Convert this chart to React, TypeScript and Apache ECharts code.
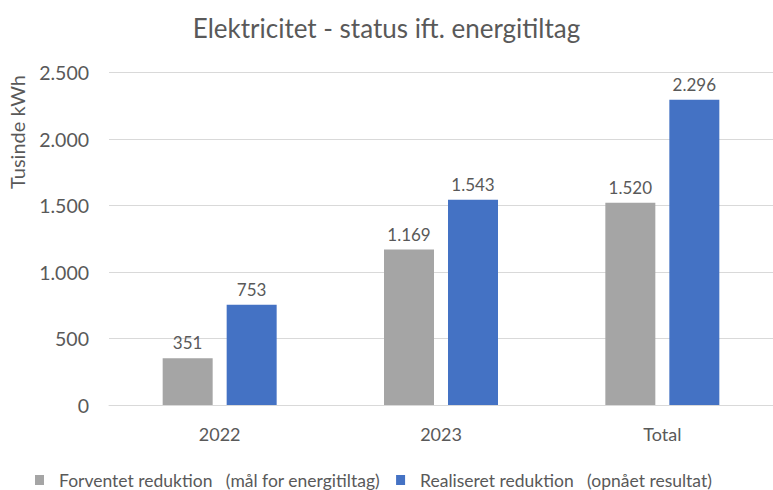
import React, { useEffect, useRef } from "react";
import * as echarts from "echarts";

const categories = ["2022", "2023", "Total"];
const expected = [351, 1169, 1520];
const realised = [753, 1543, 2296];
const seriesNames = [
  "Forventet reduktion   (mål for energitiltag)",
  "Realiseret reduktion   (opnået resultat)",
];
const titleText = "Elektricitet - status ift. energitiltag";
const yAxisName = "Tusinde kWh";

const FONT = "Lato, 'Noto Sans', sans-serif";
const TXT = "#595959";

const fmt = (v: number) =>
  String(Math.round(v)).replace(/\B(?=(\d{3})+(?!\d))/g, ".");

export default function App() {
  const ref = useRef<HTMLDivElement>(null);
  useEffect(() => {
    if (!ref.current) return;
    const chart = echarts.init(ref.current, undefined, { renderer: "svg" });
    const labelOpt = {
      show: true,
      position: "top" as const,
      distance: 7,
      color: TXT,
      fontSize: 17,
      fontFamily: FONT,
      formatter: (p: any) => fmt(p.value),
    };
    chart.setOption({
      animation: false,
      backgroundColor: "#ffffff",
      title: {
        text: titleText,
        left: "center",
        top: 10,
        textStyle: { color: TXT, fontSize: 26, fontWeight: "normal", fontFamily: FONT },
      },
      legend: {
        top: 466,
        left: 30,
        icon: "rect",
        itemWidth: 9,
        itemHeight: 10,
        itemGap: 16,
        textStyle: {
          color: TXT,
          fontSize: 17.5,
          fontFamily: FONT,
          padding: [0, 0, 0, 10],
        },
        data: seriesNames,
      },
      grid: { left: 109, width: 672, top: 72.5, height: 332.5, containLabel: false },
      xAxis: {
        type: "category",
        data: categories,
        axisLine: { show: true, lineStyle: { color: "#D9D9D9" } },
        axisTick: { show: false },
        axisLabel: { color: TXT, fontSize: 18, fontFamily: FONT, margin: 20 },
      },
      yAxis: {
        type: "value",
        min: 0,
        max: 2500,
        interval: 500,
        axisLine: { show: false },
        axisTick: { show: false },
        splitLine: { lineStyle: { color: "#D9D9D9" } },
        axisLabel: {
          color: TXT,
          fontSize: 19.5,
          fontFamily: FONT,
          margin: 20,
          formatter: (v: number) => fmt(v),
        },
      },
      graphic: [
        {
          type: "text",
          x: 17,
          y: 132,
          rotation: Math.PI / 2,
          style: {
            text: yAxisName,
            fill: TXT,
            fontSize: 20,
            fontFamily: FONT,
            align: "center",
            verticalAlign: "middle",
          },
        },
      ],
      series: [
        {
          name: seriesNames[0],
          type: "bar",
          data: expected,
          barWidth: 50,
          barGap: "28%",
          itemStyle: { color: "#A5A5A5" },
          label: labelOpt,
        },
        {
          name: seriesNames[1],
          type: "bar",
          data: realised,
          barWidth: 50,
          barGap: "28%",
          itemStyle: { color: "#4472C4" },
          label: labelOpt,
        },
      ],
    });
    return () => chart.dispose();
  }, []);
  return (
    <div
      ref={ref}
      style={{ position: "fixed", left: 0, top: 0, width: 773, height: 490 }}
    />
  );
}
